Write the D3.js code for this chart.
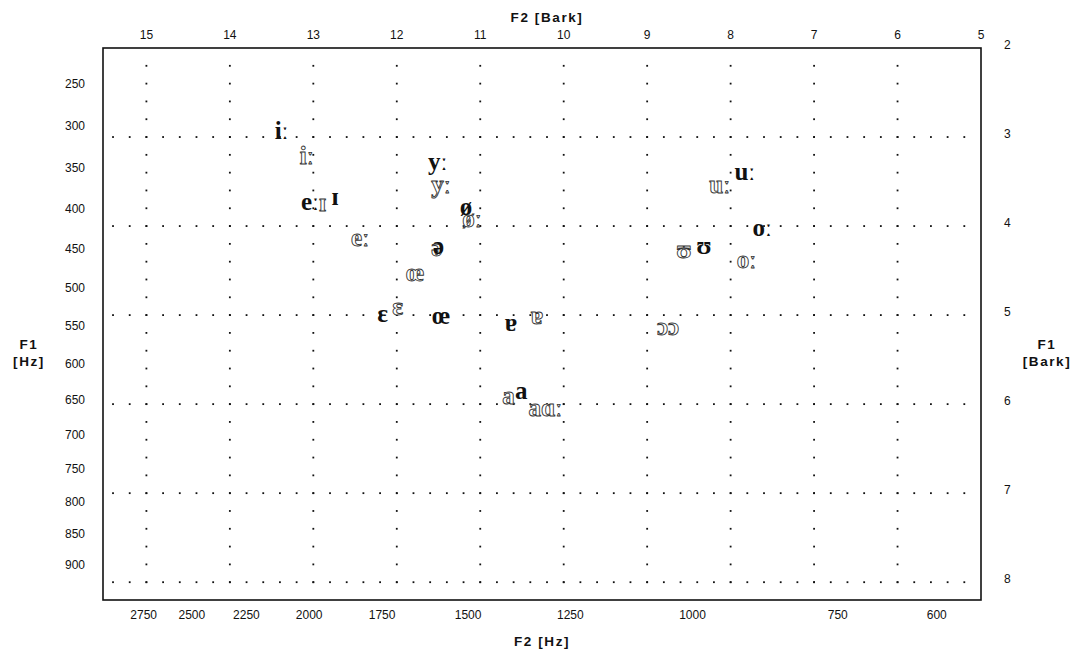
<!DOCTYPE html>
<html>
<head>
<meta charset="utf-8">
<script src="https://cdn.jsdelivr.net/npm/d3@7"></script>
<style>
  body { margin: 0; background: #fff; }
  .tick-lbl { font-family: "Liberation Sans", Arial, sans-serif; font-size: 12px; fill: #111; }
  .ttl { font-family: "Liberation Sans", Arial, sans-serif; font-size: 13.5px; font-weight: bold; fill: #111; letter-spacing: 1.6px; }
  .vow { font-family: "Liberation Serif", "DejaVu Serif", serif; font-size: 25px; font-weight: bold; }
</style>
</head>
<body>
<div id="viz"></div>
<script>
// Ticks
const F2_BARK_TICKS = [15, 14, 13, 12, 11, 10, 9, 8, 7, 6, 5];
const F2_HZ_TICKS = [2750, 2500, 2250, 2000, 1750, 1500, 1250, 1000, 750, 600];
const F1_BARK_TICKS = [2, 3, 4, 5, 6, 7, 8];
const F1_HZ_TICKS = [250, 300, 350, 400, 450, 500, 550, 600, 650, 700, 750, 800, 850, 900];

// Vowels (F2 and F1 in Bark), solid = first speaker, outline = second
const VOWELS_SOLID = ['iː', 'eː', 'ɪ', 'ɛ', 'œ', 'ə', 'ø', 'yː', 'uː', 'ʊ', 'oː', 'ɐ', 'a'];
const SOLID_F2 = [13.38, 13.04, 12.74, 12.17, 11.47, 11.50, 11.17, 11.51, 7.83, 8.32, 7.62, 10.63, 10.51];
const SOLID_F1 = [2.93, 3.72, 3.67, 4.98, 5.01, 4.22, 3.78, 3.27, 3.39, 4.22, 4.02, 5.08, 5.85];

const VOWELS_OUTLINE = ['iː', 'ɪ', 'eː', 'ɛ', 'œ', 'ə', 'øː', 'yː', 'uː', 'ʊ', 'oː', 'ɔɔ', 'ɐ', 'a', 'aɑː'];
const OUTLINE_F2 = [13.08, 12.89, 12.44, 11.99, 11.78, 11.52, 11.10, 11.47, 8.13, 8.56, 7.81, 8.75, 10.32, 10.66, 10.22];
const OUTLINE_F1 = [3.21, 3.73, 4.13, 4.90, 4.52, 4.24, 3.91, 3.53, 3.53, 4.26, 4.38, 5.13, 5.01, 5.90, 6.04];

// Zwicker Hz -> Bark
function hzToBark(f) {
    return 13 * Math.atan(0.00076 * f) + 3.5 * Math.atan(Math.pow(f / 7500, 2));
}

const W = 1070, H = 653;
let svg = d3.select('#viz').append('svg')
    .attr('width', W)
    .attr('height', H);

let x = d3.scaleLinear().domain([15.52, 5]).range([103, 981]);
let y = d3.scaleLinear().domain([2, 8.2]).range([48, 600]);

// grid de puntos
let grid = svg.append('g').attr('fill', '#111');
F1_BARK_TICKS.slice(1).forEach(function(b) {
    d3.range(15.4, 5.1, -0.2).forEach(function(c) {
        grid.append('rect').attr('x', x(c) - 0.9).attr('y', y(b) - 0.9).attr('width', 1.8).attr('height', 1.8);
    });
});
F2_BARK_TICKS.slice(0, -1).forEach(function(c) {
    d3.range(2.2, 8.1, 0.2).forEach(function(b) {
        grid.append('rect').attr('x', x(c) - 0.9).attr('y', y(b) - 0.9).attr('width', 1.8).attr('height', 1.8);
    });
});

// marco
svg.append('rect')
    .attr('x', x.range()[0]).attr('y', y.range()[0])
    .attr('width', x.range()[1] - x.range()[0])
    .attr('height', y.range()[1] - y.range()[0])
    .attr('fill', 'none').attr('stroke', '#111').attr('stroke-width', 1.6);

// ejes
svg.selectAll('.tb').data(F2_BARK_TICKS).enter().append('text')
    .attr('class', 'tick-lbl')
    .attr('x', function(d) { return x(d); })
    .attr('y', 35)
    .attr('text-anchor', 'middle').attr('dominant-baseline', 'central')
    .text(function(d) { return d; });

svg.selectAll('.bh').data(F2_HZ_TICKS).enter().append('text')
    .attr('class', 'tick-lbl')
    .attr('x', function(d) { return x(hzToBark(d)) + 4.5; })
    .attr('y', 615)
    .attr('text-anchor', 'middle').attr('dominant-baseline', 'central')
    .text(function(d) { return d; });

svg.selectAll('.lh').data(F1_HZ_TICKS).enter().append('text')
    .attr('class', 'tick-lbl')
    .attr('x', 85)
    .attr('y', function(d) { return y(hzToBark(d)) - 3.5; })
    .attr('text-anchor', 'end').attr('dominant-baseline', 'central')
    .text(function(d) { return d; });

svg.selectAll('.rb').data(F1_BARK_TICKS).enter().append('text')
    .attr('class', 'tick-lbl')
    .attr('x', 1004)
    .attr('y', function(d) { return y(d) - 3; })
    .attr('text-anchor', 'start').attr('dominant-baseline', 'central')
    .text(function(d) { return d; });

// titulos
function title(tx, ty, s) {
    svg.append('text').attr('class', 'ttl')
        .attr('x', tx).attr('y', ty)
        .attr('text-anchor', 'middle').attr('dominant-baseline', 'central')
        .text(s);
}
title(547, 17, 'F2 [Bark]');
title(542, 641, 'F2 [Hz]');
title(29, 344, 'F1');
title(29, 361, '[Hz]');
title(1047, 344, 'F1');
title(1047, 361, '[Bark]');

// vocales
svg.selectAll('.vo').data(VOWELS_OUTLINE).enter().append('text')
    .attr('class', 'vow')
    .attr('x', function(d, i) { return x(OUTLINE_F2[i]); })
    .attr('y', function(d, i) { return y(OUTLINE_F1[i]); })
    .attr('text-anchor', 'middle').attr('dominant-baseline', 'central')
    .attr('fill', '#fff').attr('stroke', '#333').attr('stroke-width', 0.9)
    .text(function(d) { return d; });

svg.selectAll('.vs').data(VOWELS_SOLID).enter().append('text')
    .attr('class', 'vow')
    .attr('x', function(d, i) { return x(SOLID_F2[i]); })
    .attr('y', function(d, i) { return y(SOLID_F1[i]); })
    .attr('text-anchor', 'middle').attr('dominant-baseline', 'central')
    .attr('fill', '#111')
    .text(function(d) { return d; });
</script>
</body>
</html>
